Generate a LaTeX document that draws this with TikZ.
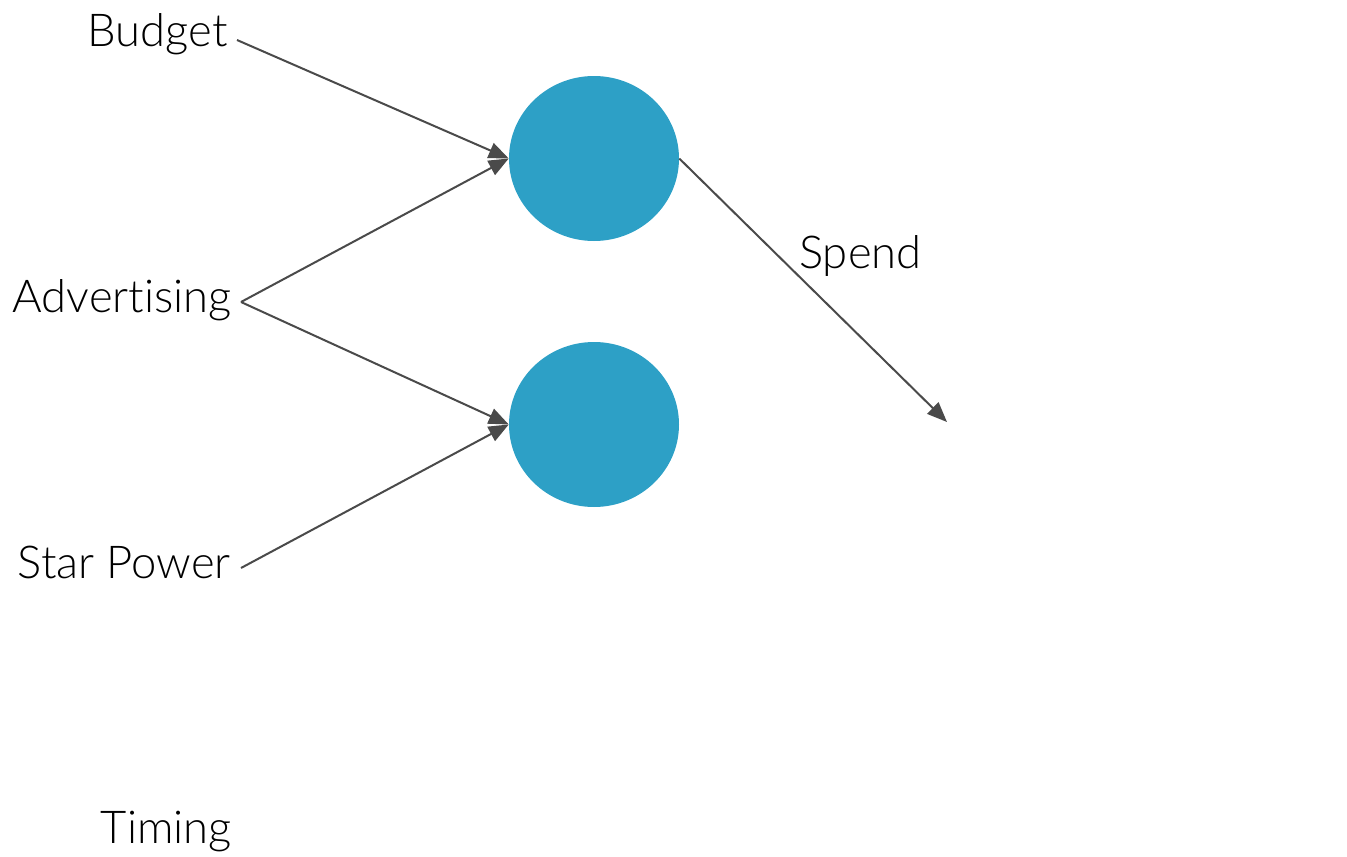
\documentclass[tikz,border=0pt]{standalone}
\usepackage{fontspec}
\setmainfont{Lato}[UprightFont={* Light}, Ligatures=NoCommon]
\usetikzlibrary{arrows.meta,shapes.geometric}
\definecolor{dotblue}{HTML}{2DA0C6}
\definecolor{linegray}{HTML}{4A4A4A}
\tikzset{
  lbl/.style={anchor=base east, inner sep=0pt, font=\fontsize{34pt}{40pt}\selectfont, text=black},
  neuron/.style={ellipse, fill=dotblue, minimum width=127.5pt, minimum height=123.75pt, inner sep=0pt},
  conn/.style={draw=linegray, line width=1.5pt, -{Triangle[length=15pt,width=12pt]}},
}
\begin{document}
\begin{tikzpicture}[x=0.75pt,y=-0.75pt]
\useasboundingbox (0,0) rectangle (1347,857);
\node[lbl] (budget) at (228,46) {Budget};
\node[lbl] (adv) at (232,312) {Advertising};
\node[lbl] (star) at (231,578) {Star Power};
\node[lbl] (timing) at (232,843) {Timing};
\node[neuron] (n1) at (594,158.5) {};
\node[neuron] (n2) at (594,424.5) {};
\node[lbl, anchor=base west] (spend) at (799,268) {Spend};
\coordinate (bo) at (237,40);
\coordinate (ao) at (241,302);
\coordinate (so) at (241,568);
\coordinate (out) at (947,422);
\draw[conn] (bo) -- (n1.west);
\draw[conn] (ao) -- (n1.west);
\draw[conn] (ao) -- (n2.west);
\draw[conn] (so) -- (n2.west);
\draw[conn] (n1.east) -- (out);
\end{tikzpicture}
\end{document}
